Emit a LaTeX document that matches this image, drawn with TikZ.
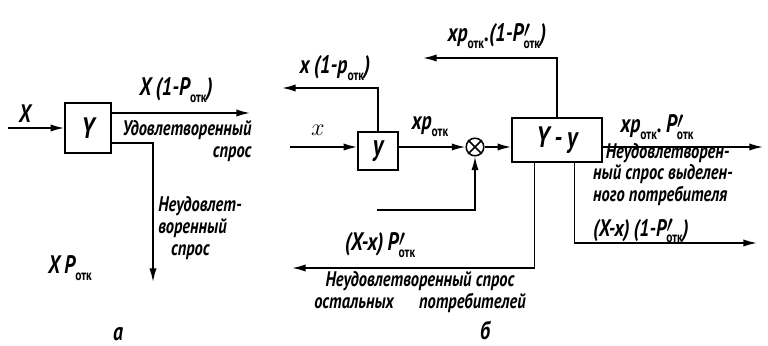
\documentclass[tikz,border=0pt]{standalone}
\usepackage{fontspec}
\setmainfont{PT Sans}
\newfontfamily\hand[FakeStretch=0.78]{PT Sans}
\usetikzlibrary{arrows.meta,positioning,calc}
\newcommand{\otk}{\raisebox{-0.55ex}{\fontsize{10.5}{10.5}\selectfont\upshape\bfseries отк}}
\newcommand{\otkp}{\rlap{\raisebox{0.3ex}{$\prime$}}\otk}
\tikzset{
  flow/.style={line width=1.1pt,black,-{Latex[length=3.4mm,width=1.8mm]}},
  blk/.style={draw,line width=1.1pt,inner sep=0pt,font=\hand\bfseries\itshape\fontsize{21}{21}\selectfont},
  sumnode/.style={draw,line width=1.1pt,circle,minimum size=4.4mm,inner sep=0pt},
  lbl/.style={font=\hand\bfseries\itshape\fontsize{18}{18}\selectfont,inner sep=0pt},
  note/.style={font=\hand\bfseries\itshape\fontsize{15}{15.5}\selectfont,inner sep=0pt,align=left}
}
\begin{document}
\begin{tikzpicture}[x=0.025cm,y=-0.025cm]
  \useasboundingbox (0,0) rectangle (768,346);
  % panel a
  \node[blk,minimum width=1.15cm,minimum height=1.25cm] (Ya) at (88,128) {Y};
  \coordinate (ina) at (8,128);
  \coordinate (outa1) at (250,113);
  \coordinate (outa2) at (153,282);
  \draw[flow] (ina) -- (Ya);
  \draw[flow] ([yshift=3.75mm]Ya.east) -- (outa1);
  \draw[flow] ([yshift=-3.75mm]Ya.east) -| (outa2);
  \node[lbl] (lX) at (25,114) {X};
  \node[lbl] (lXq) at (176,90) {X\,(1-P\otk)};
  \node[note,align=right] (lsat) at (187,141) {Удовлетворенный\\спрос\hspace{1.1em}};
  \node[note] (lunsat) at (200,228) {Неудовлет-\\воренный\\\hspace{0.6em}спрос};
  \node[lbl] (lXP) at (70,268) {X\,P\otk};
  \node[lbl] (ta) at (118,334) {а};
  % panel b
  \node[blk,minimum width=1.0cm,minimum height=0.95cm] (yb) at (378,151) {у};
  \node[sumnode] (sum) at (475,147) {};
  \draw[line width=1.1pt] (sum.north east) -- (sum.south west) (sum.north west) -- (sum.south east);
  \node[blk,minimum width=2.25cm,minimum height=1.1cm] (YY) at (557,140) {Y\,-\,у};
  \coordinate (inb) at (290,147);
  \coordinate (oy1) at (282,88);
  \coordinate (fb) at (377,210);
  \coordinate (oYY1) at (423,58);
  \coordinate (oYY2) at (763,147);
  \coordinate (oYY3) at (757,243);
  \coordinate (oYY4) at (292,268);
  \draw[flow] (inb) -- (yb.west |- inb);
  \draw[flow] (yb.north) |- (oy1);
  \draw[flow] (yb.east |- sum) -- (sum);
  \draw[flow] (fb) -| (sum.south);
  \draw[flow] (sum) -- (YY.west |- sum);
  \draw[flow] (YY.north) |- (oYY1);
  \draw[flow] (YY.east |- oYY2) -- (oYY2);
  \draw[flow] ([xshift=4.4mm]YY.south) |- (oYY3);
  \draw[flow] ([xshift=-5.6mm]YY.south) |- (oYY4);
  \node[lbl] (lx) at (318,130) {$x$};
  \node[lbl] (lxq) at (335,68) {x\,(1-p\otk)};
  \node[lbl] (lxp) at (430,127) {xp\otk};
  \node[lbl] (lxpq) at (497,36) {xp\otk.(1-P\otkp)};
  \node[lbl] (lxpP) at (657,127) {xp\otk.\,P\otkp};
  \node[note] (lsel) at (663,193) {\hspace{0.6em}Неудовлетворен-\\ный спрос выделен-\\ного потребителя\\[9pt]{\fontsize{17}{17}\selectfont (X-x)\,(1-P\otkp)}};
  \node[lbl] (lrest) at (380,245) {(X-x)\,P\otkp};
  \node[note,align=center] (lrt) at (420,292) {Неудовлетворенный спрос\\остальных\hspace{1.2em}потребителей};
  \node[lbl] (tb) at (485,330) {б};
\end{tikzpicture}
\end{document}
